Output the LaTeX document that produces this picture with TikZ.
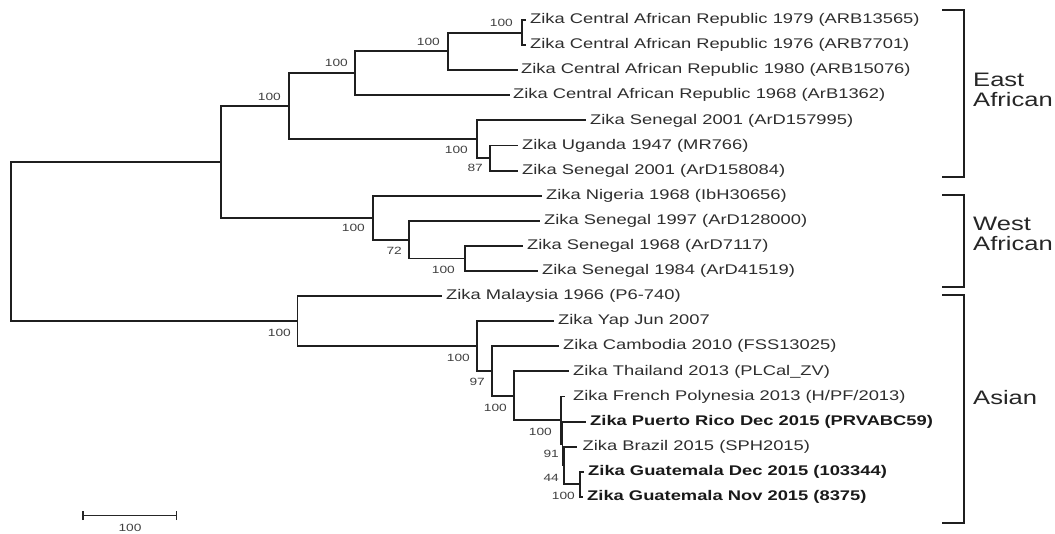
\documentclass[tikz,border=0pt]{standalone}
\usepackage{fontspec}
\setmainfont{Liberation Sans}
\newfontfamily\leaffont[FakeStretch=1.31]{Liberation Sans}
\tikzset{
  br/.style={line width=1.9pt, draw=black!88, line cap=rect},
  brk/.style={line width=2.6pt, draw=black!88},
  leaf/.style={anchor=west, inner sep=0pt, text=black!82, font=\leaffont\fontsize{14}{16}\selectfont},
  bleaf/.style={leaf, text=black!90, font=\leaffont\bfseries\fontsize{14}{16}\selectfont},
  boot/.style={anchor=east, inner sep=0pt, text=black!75, font=\leaffont\fontsize{10.5}{12}\selectfont},
  clade/.style={anchor=west, inner sep=0pt, align=left, text=black!85, font=\leaffont\fontsize{19.5}{20}\selectfont},
}
\begin{document}
\begin{tikzpicture}[x=1pt,y=-1pt]
\useasboundingbox (0,0) rectangle (1055,533);
% internal nodes
\coordinate (root) at (11,241.5);
\coordinate (A) at (221.4,162);
\coordinate (E) at (289,106.3);
\coordinate (CN) at (355,73.35);
\coordinate (CI) at (448,51.4);
\coordinate (P1) at (522,32.55);
\coordinate (SG) at (476.7,139.2);
\coordinate (SI) at (490,158.05);
\coordinate (W) at (373,217.7);
\coordinate (WI) at (409,239.6);
\coordinate (WI3) at (465,258.45);
\coordinate (AS) at (297.5,321.1);
\coordinate (AI) at (476.7,346.1);
\coordinate (CB) at (492,371);
\coordinate (TH) at (514,395.7);
\coordinate (X) at (561,420);
\coordinate (Y) at (562.5,443.6);
\coordinate (Z) at (564,465.5);
\coordinate (GW) at (580,484.35);
% leaf tips
\coordinate (l1) at (525,20);
\coordinate (l2) at (525,45.1);
\coordinate (l3) at (517,70.2);
\coordinate (l4) at (509,95.3);
\coordinate (l5) at (585,120.4);
\coordinate (l6) at (517,145.5);
\coordinate (l7) at (517,170.6);
\coordinate (l8) at (541,195.7);
\coordinate (l9) at (539,220.8);
\coordinate (l10) at (522,245.9);
\coordinate (l11) at (537,271);
\coordinate (l12) at (441,296.1);
\coordinate (l13) at (553,321.2);
\coordinate (l14) at (558,346.3);
\coordinate (l15) at (568,371.4);
\coordinate (l16) at (564,396.5);
\coordinate (l17) at (585,421.6);
\coordinate (l18) at (576,446.7);
\coordinate (l19) at (583,471.8);
\coordinate (l20) at (582,496.9);
% leaf labels
\node[leaf] (t1) at (530,20) {Zika Central African Republic 1979 (ARB13565)};
\node[leaf] (t2) at (530,45.1) {Zika Central African Republic 1976 (ARB7701)};
\node[leaf] (t3) at (521,70.2) {Zika Central African Republic 1980 (ARB15076)};
\node[leaf] (t4) at (513,95.3) {Zika Central African Republic 1968 (ArB1362)};
\node[leaf] (t5) at (590,120.4) {Zika Senegal 2001 (ArD157995)};
\node[leaf] (t6) at (522,145.5) {Zika Uganda 1947 (MR766)};
\node[leaf] (t7) at (522,170.6) {Zika Senegal 2001 (ArD158084)};
\node[leaf] (t8) at (546,195.7) {Zika Nigeria 1968 (IbH30656)};
\node[leaf] (t9) at (544,220.8) {Zika Senegal 1997 (ArD128000)};
\node[leaf] (t10) at (527,245.9) {Zika Senegal 1968 (ArD7117)};
\node[leaf] (t11) at (542,271) {Zika Senegal 1984 (ArD41519)};
\node[leaf] (t12) at (446,296.1) {Zika Malaysia 1966 (P6-740)};
\node[leaf] (t13) at (558,321.2) {Zika Yap Jun 2007};
\node[leaf] (t14) at (563,346.3) {Zika Cambodia 2010 (FSS13025)};
\node[leaf] (t15) at (573,371.4) {Zika Thailand 2013 (PLCal\_ZV)};
\node[leaf] (t16) at (573,396.5) {Zika French Polynesia 2013 (H/PF/2013)};
\node[bleaf] (t17) at (590,421.6) {Zika Puerto Rico Dec 2015 (PRVABC59)};
\node[leaf] (t18) at (582.5,446.7) {Zika Brazil 2015 (SPH2015)};
\node[bleaf] (t19) at (588,471.8) {Zika Guatemala Dec 2015 (103344)};
\node[bleaf] (t20) at (587,496.9) {Zika Guatemala Nov 2015 (8375)};
% branches
\draw[br] (root) |- (A);
\draw[br] (root) |- (AS);
\draw[br] (A) |- (E);
\draw[br] (A) |- (W);
\draw[br] (E) |- (CN);
\draw[br] (E) |- (SG);
\draw[br] (CN) |- (CI);
\draw[br] (CN) |- (l4);
\draw[br] (CI) |- (P1);
\draw[br] (CI) |- (l3);
\draw[br] (P1) |- (l1);
\draw[br] (P1) |- (l2);
\draw[br] (SG) |- (l5);
\draw[br] (SG) |- (SI);
\draw[br] (SI) |- (l6);
\draw[br] (SI) |- (l7);
\draw[br] (W) |- (l8);
\draw[br] (W) |- (WI);
\draw[br] (WI) |- (l9);
\draw[br] (WI) |- (WI3);
\draw[br] (WI3) |- (l10);
\draw[br] (WI3) |- (l11);
\draw[br] (AS) |- (l12);
\draw[br] (AS) |- (AI);
\draw[br] (AI) |- (l13);
\draw[br] (AI) |- (CB);
\draw[br] (CB) |- (l14);
\draw[br] (CB) |- (TH);
\draw[br] (TH) |- (l15);
\draw[br] (TH) |- (X);
\draw[br] (X) |- (l16);
\draw[br] (X) |- (Y);
\draw[br] (Y) |- (l17);
\draw[br] (Y) |- (Z);
\draw[br] (Z) |- (l18);
\draw[br] (Z) |- (GW);
\draw[br] (GW) |- (l19);
\draw[br] (GW) |- (l20);
% bootstrap values
\node[boot] (b1) at (513,23) {100};
\node[boot] (b2) at (440,42) {100};
\node[boot] (b3) at (348,63) {100};
\node[boot] (b4) at (281,97) {100};
\node[boot] (b5) at (468,150) {100};
\node[boot] (b6) at (483,168) {87};
\node[boot] (b7) at (365,228) {100};
\node[boot] (b8) at (402,251) {72};
\node[boot] (b9) at (455,270) {100};
\node[boot] (b10) at (291,333) {100};
\node[boot] (b11) at (470,358) {100};
\node[boot] (b12) at (485,382) {97};
\node[boot] (b13) at (507,408) {100};
\node[boot] (b14) at (552,432) {100};
\node[boot] (b15) at (559,454) {91};
\node[boot] (b16) at (559,478) {44};
\node[boot] (b17) at (575,496) {100};
% clade brackets
\draw[brk] (942,10) -- (964,10) -- (964,177) -- (942,177);
\draw[brk] (942,195) -- (964,195) -- (964,287) -- (942,287);
\draw[brk] (942,295) -- (964,295) -- (964,523) -- (942,523);
\node[clade] (eaf) at (973,90) {East\\African};
\node[clade] (waf) at (973,234) {West\\African};
\node[clade] (asi) at (973,398) {Asian};
% scale bar
\coordinate (s1) at (83,515.7);
\coordinate (s2) at (176.5,515.7);
\draw[line width=1.5pt, black!85] (s1) -- (s2);
\draw[line width=1.5pt, black!85] ([yshift=-4.5pt]s1) -- ([yshift=4.5pt]s1);
\draw[line width=1.5pt, black!85] ([yshift=-4.5pt]s2) -- ([yshift=4.5pt]s2);
\node[boot, anchor=center] (sl) at (130,528) {100};
\end{tikzpicture}
\end{document}
